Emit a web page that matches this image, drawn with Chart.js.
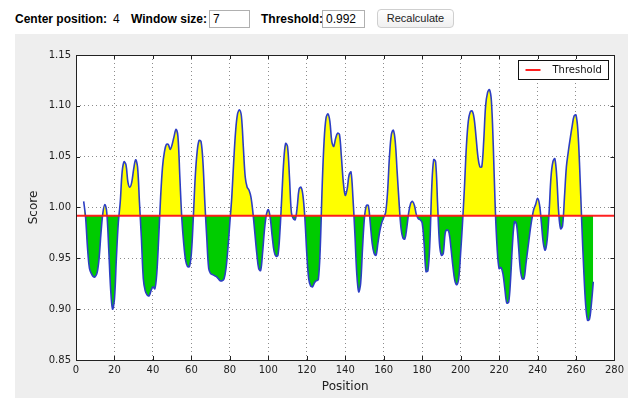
<!DOCTYPE html>
<html><head><meta charset="utf-8">
<script src="https://cdn.jsdelivr.net/npm/chart.js@4.4.0/dist/chart.umd.min.js"></script>
<style>
html,body{margin:0;padding:0;background:#fff;width:628px;height:398px;overflow:hidden;font-family:"Liberation Sans",Arial,sans-serif;font-size:12px;color:#000}
.t{position:absolute;top:12px;white-space:nowrap;line-height:14px}
.b{font-weight:bold}
.inp{position:absolute;top:10px;height:18px;border:1px solid #b0b0b0;box-sizing:border-box;font-size:12px;line-height:16px;padding-left:3px;background:#fff}
.btn{position:absolute;left:377px;top:9px;width:77px;height:19px;border:1px solid #cfcfcf;border-radius:4px;box-sizing:border-box;background:linear-gradient(#ffffff,#f0f0f0);font-size:11px;text-align:center;line-height:17px;color:#222}
#panel{position:absolute;left:15px;top:34px;width:613px;height:364px;background:#eeeeee}
</style></head>
<body>
<div class="t b" style="left:15px">Center position:</div>
<div class="t" style="left:113px">4</div>
<div class="t b" style="left:131px">Window size:</div>
<div class="inp" style="left:209px;width:41px">7</div>
<div class="t b" style="left:261px">Threshold:</div>
<div class="inp" style="left:322px;width:43px">0.992</div>
<div class="btn">Recalculate</div>
<div id="panel"><canvas id="c" width="613" height="364"></canvas></div>
<script>
const positions = [4,5,6,7,8,9,10,11,12,13,14,15,16,17,18,19,20,21,22,23,24,25,26,27,28,29,30,31,32,33,34,35,36,37,38,39,40,41,42,43,44,45,46,47,48,49,50,51,52,53,54,55,56,57,58,59,60,61,62,63,64,65,66,67,68,69,70,71,72,73,74,75,76,77,78,79,80,81,82,83,84,85,86,87,88,89,90,91,92,93,94,95,96,97,98,99,100,101,102,103,104,105,106,107,108,109,110,111,112,113,114,115,116,117,118,119,120,121,122,123,124,125,126,127,128,129,130,131,132,133,134,135,136,137,138,139,140,141,142,143,144,145,146,147,148,149,150,151,152,153,154,155,156,157,158,159,160,161,162,163,164,165,166,167,168,169,170,171,172,173,174,175,176,177,178,179,180,181,182,183,184,185,186,187,188,189,190,191,192,193,194,195,196,197,198,199,200,201,202,203,204,205,206,207,208,209,210,211,212,213,214,215,216,217,218,219,220,221,222,223,224,225,226,227,228,229,230,231,232,233,234,235,236,237,238,239,240,241,242,243,244,245,246,247,248,249,250,251,252,253,254,255,256,257,258,259,260,261,262,263,264,265,266,267,268,269];
const scores = [
1.006,0.990,0.960,0.940,0.935,0.932,0.932,0.936,0.950,0.975,0.995,1.003,0.995,0.960,0.920,0.900,0.910,0.950,0.985,1.005,
1.035,1.045,1.042,1.025,1.020,1.025,1.038,1.047,1.040,1.005,0.970,0.930,0.918,0.914,0.913,0.918,0.922,0.920,0.935,0.970,
1.010,1.040,1.055,1.062,1.062,1.057,1.062,1.070,1.077,1.070,1.030,0.990,0.965,0.948,0.942,0.942,0.955,0.990,1.030,1.055,
1.066,1.065,1.045,1.005,0.970,0.940,0.935,0.934,0.933,0.932,0.930,0.928,0.928,0.930,0.940,0.960,0.985,1.010,1.045,1.075,
1.092,1.096,1.090,1.060,1.030,1.020,1.017,1.010,0.995,0.975,0.955,0.940,0.938,0.955,0.978,0.993,0.998,0.990,0.972,0.957,
0.952,0.953,0.975,1.010,1.045,1.063,1.060,1.030,0.995,0.989,0.988,1.000,1.018,1.020,1.012,0.990,0.955,0.930,0.923,0.922,
0.926,0.928,0.929,0.960,1.020,1.065,1.088,1.092,1.085,1.065,1.060,1.068,1.073,1.072,1.050,1.025,1.012,1.018,1.032,1.035,
1.010,0.975,0.935,0.917,0.925,0.960,0.990,1.002,1.002,0.985,0.965,0.955,0.953,0.965,0.977,0.985,0.990,0.995,1.015,1.050,
1.072,1.076,1.065,1.035,1.005,0.980,0.970,0.969,0.980,0.995,1.004,1.006,1.002,0.993,0.989,0.988,0.985,0.965,0.937,0.938,
0.965,1.020,1.047,1.045,1.005,0.965,0.953,0.955,0.975,0.978,0.975,0.960,0.942,0.928,0.924,0.930,0.955,0.985,1.020,1.060,
1.085,1.094,1.095,1.088,1.070,1.050,1.040,1.040,1.065,1.100,1.113,1.116,1.105,1.060,1.000,0.960,0.940,0.941,0.935,0.920,
0.906,0.907,0.930,0.965,0.986,0.984,0.965,0.940,0.930,0.930,0.945,0.960,0.975,0.988,0.998,1.003,1.009,1.003,0.985,0.965,
0.958,0.968,0.995,1.030,1.045,1.048,1.030,0.995,0.979,0.982,1.010,1.040,1.055,1.068,1.080,1.090,1.091,1.075,1.035,0.985,
0.940,0.905,0.889,0.890,0.905,0.927];
const threshold = 0.992;
const xTicks = [0,20,40,60,80,100,120,140,160,180,200,220,240,260,280];
const yTicks = [0.85,0.90,0.95,1.00,1.05,1.10,1.15];
const xTitle = 'Position';
const yTitle = 'Score';
const legendLabel = 'Threshold';

const tickFont = {family:'"DejaVu Sans", sans-serif', size:10};
const titleFont = {family:'"DejaVu Sans", sans-serif', size:12};

const deco = {
  id:'deco',
  beforeDraw(chart){
    const {ctx, chartArea:a} = chart;
    ctx.save();
    ctx.fillStyle = '#eeeeee';
    ctx.fillRect(0,0,chart.width,chart.height);
    ctx.fillStyle = '#ffffff';
    ctx.fillRect(a.left,a.top,a.right-a.left,a.bottom-a.top);
    ctx.restore();
  },
  afterDraw(chart){
    const {ctx, chartArea:a, scales:{x,y}} = chart;
    ctx.save();
    ctx.strokeStyle = '#222';
    ctx.lineWidth = 1;
    ctx.strokeRect(Math.round(a.left)+0.5, Math.round(a.top)+0.5, Math.round(a.right-a.left), Math.round(a.bottom-a.top));
    ctx.beginPath();
    xTicks.forEach(v=>{
      const px = Math.round(x.getPixelForValue(v))+0.5;
      ctx.moveTo(px,a.bottom); ctx.lineTo(px,a.bottom-4);
      ctx.moveTo(px,a.top); ctx.lineTo(px,a.top+4);
    });
    yTicks.forEach(v=>{
      const py = Math.round(y.getPixelForValue(v))+0.5;
      ctx.moveTo(a.left,py); ctx.lineTo(a.left+4,py);
      ctx.moveTo(a.right,py); ctx.lineTo(a.right-4,py);
    });
    ctx.stroke();
    // legend
    const bw = 90, bh = 19;
    const bx = Math.round(a.right - 6 - bw) + 0.5, by = Math.round(a.top + 5) + 0.5;
    ctx.fillStyle = '#fff';
    ctx.fillRect(bx,by,bw,bh);
    ctx.strokeStyle = '#111';
    ctx.strokeRect(bx,by,bw,bh);
    ctx.strokeStyle = '#ff2020';
    ctx.lineWidth = 2;
    ctx.beginPath();
    ctx.moveTo(bx+7, by+bh/2); ctx.lineTo(bx+22, by+bh/2);
    ctx.stroke();
    ctx.fillStyle = '#111';
    ctx.font = '10px "DejaVu Sans", sans-serif';
    ctx.textBaseline = 'middle';
    ctx.fillText(legendLabel, bx+34, by+bh/2+0.5);
    ctx.restore();
  }
};

new Chart(document.getElementById('c'), {
  type:'line',
  data:{
    datasets:[
      {label:legendLabel, data:[{x:xTicks[0],y:threshold},{x:xTicks[xTicks.length-1],y:threshold}],
       borderColor:'rgba(255,20,20,0.95)', borderWidth:2, pointRadius:0, fill:false, order:0},
      {label:'Score', data:positions.map((p,i)=>({x:p,y:scores[i]})),
       borderColor:'#2d3ec4', borderWidth:1.6, pointRadius:0, tension:0.35,
       fill:{target:{value:threshold}, above:'#ffff00', below:'#00cc00'}, order:1}
    ]
  },
  plugins:[deco],
  options:{
    responsive:false, animation:false, events:[],
    layout:{padding:{top:21,right:11,left:0,bottom:0}},
    plugins:{legend:{display:false}, tooltip:{enabled:false}},
    scales:{
      x:{type:'linear', min:0, max:280,
        afterBuildTicks(s){ s.ticks = xTicks.map(v=>({value:v})); },
        afterFit(s){ s.height = 38; },
        ticks:{font:tickFont, color:'#222', padding:4, maxRotation:0, autoSkip:false},
        grid:{color:'rgba(0,0,0,0.45)', lineWidth:1, drawTicks:false},
        border:{display:false, dash:[1,3]},
        title:{display:true, text:xTitle, font:titleFont, color:'#222', padding:{top:0,bottom:4}}
      },
      y:{type:'linear', min:0.85, max:1.15,
        afterBuildTicks(s){ s.ticks = yTicks.map(v=>({value:v})); },
        afterFit(s){ s.width = 61; },
        ticks:{font:tickFont, color:'#222', padding:5, callback:v=>Number(v).toFixed(2), autoSkip:false},
        grid:{color:'rgba(0,0,0,0.45)', lineWidth:1, drawTicks:false},
        border:{display:false, dash:[1,3]},
        title:{display:true, text:yTitle, font:titleFont, color:'#222', padding:{top:12,bottom:0}}
      }
    }
  }
});
</script>
</body></html>
